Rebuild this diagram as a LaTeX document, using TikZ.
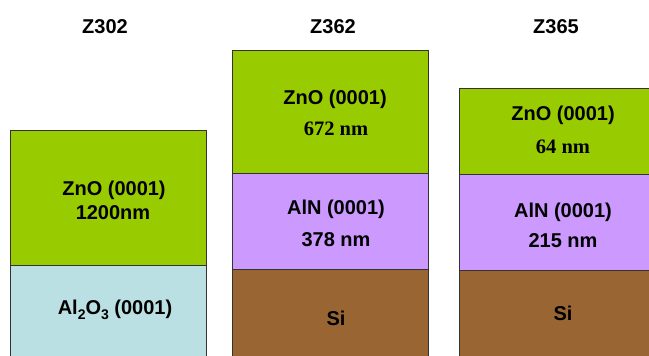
\documentclass[tikz,border=0pt]{standalone}
\usepackage{fontspec}
\setmainfont{Liberation Sans}
\newfontfamily\serifbf{Liberation Serif}
\definecolor{znoc}{HTML}{99CC00}
\definecolor{alnc}{HTML}{CC99FF}
\definecolor{sic}{HTML}{996633}
\definecolor{saphc}{HTML}{BBE0E3}
\begin{document}
\begin{tikzpicture}[x=1pt,y=-1pt,
  layer/.style={draw=black!80,line width=0.8pt,anchor=north west,inner sep=0pt,minimum width=196pt},
  lbl/.style={anchor=base,inner sep=0pt,font=\fontsize{20}{20}\selectfont\bfseries},
  slbl/.style={anchor=base,inner sep=0pt,font=\fontsize{20.5}{20}\selectfont\serifbf\bfseries},
  ttl/.style={anchor=base,inner sep=0pt,font=\fontsize{20}{20}\selectfont\bfseries}]
\useasboundingbox (0,0) rectangle (649,356);
\begin{scope}
\clip (0,0) rectangle (649,356);
% titles
\node[ttl] (t1) at (105,33) {Z302};
\node[ttl] (t2) at (333,33) {Z362};
\node[ttl] (t3) at (556,33) {Z365};
% column 1
\node[layer,fill=znoc,minimum height=135pt] (a1) at (10,130) {};
\node[layer,fill=saphc,minimum height=120pt] (a2) at (10,265) {};
% column 2
\node[layer,fill=znoc,minimum height=123pt] (b1) at (232,50) {};
\node[layer,fill=alnc,minimum height=96pt] (b2) at (232,173) {};
\node[layer,fill=sic,minimum height=120pt] (b3) at (232,269) {};
% column 3
\node[layer,fill=znoc,minimum height=86pt] (c1) at (459,88) {};
\node[layer,fill=alnc,minimum height=96pt] (c2) at (459,174) {};
\node[layer,fill=sic,minimum height=120pt] (c3) at (459,270) {};
\end{scope}
% labels column 1
\node[lbl] (a1l1) at (114,195) {ZnO (0001)};
\node[lbl] (a1l2) at (113,219) {1200nm};
\node[lbl] (a2l1) at (115,314) {Al\raisebox{-0.28em}{\fontsize{14}{14}\selectfont 2}O\raisebox{-0.28em}{\fontsize{14}{14}\selectfont 3} (0001)};
% labels column 2
\node[lbl] (b1l1) at (335,104) {ZnO (0001)};
\node[slbl] (b1l2) at (336,135) {672 nm};
\node[lbl] (b2l1) at (336,214) {AlN (0001)};
\node[lbl] (b2l2) at (336,246) {378 nm};
\node[lbl] (b3l1) at (336,325) {Si};
% labels column 3
\node[lbl] (c1l1) at (563,120) {ZnO (0001)};
\node[slbl] (c1l2) at (563,153) {64 nm};
\node[lbl] (c2l1) at (563,217) {AlN (0001)};
\node[lbl] (c2l2) at (563,247) {215 nm};
\node[lbl] (c3l1) at (563,320) {Si};
\end{tikzpicture}
\end{document}
